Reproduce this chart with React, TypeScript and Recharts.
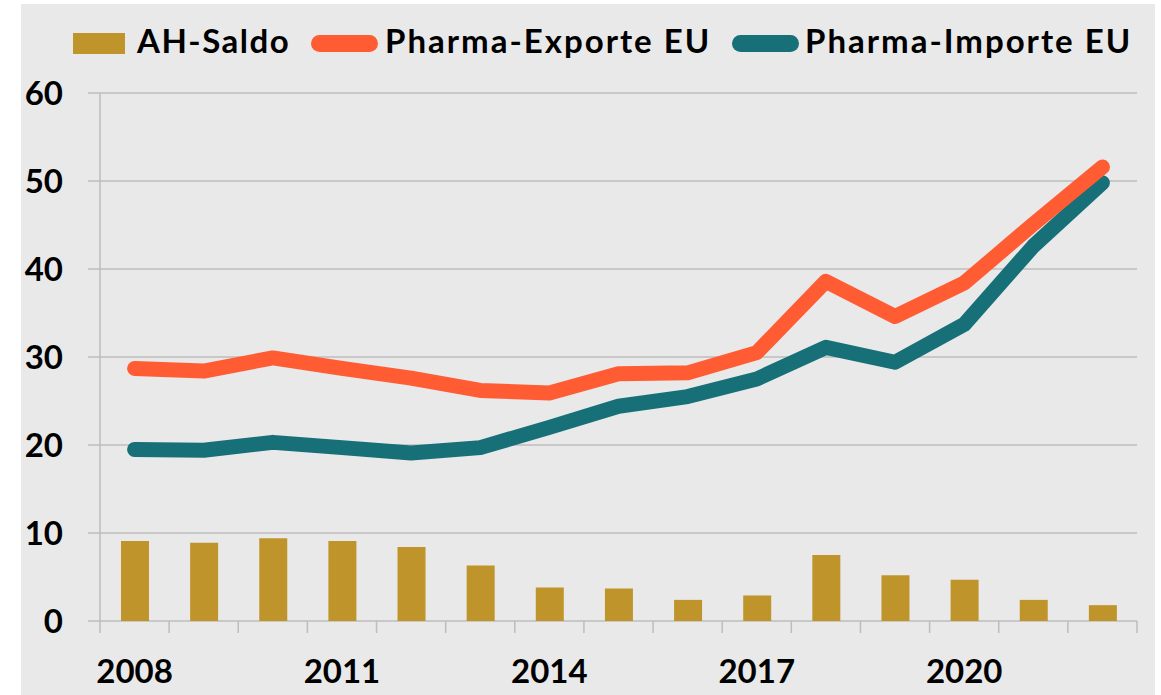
import { Bar, CartesianGrid, ComposedChart, Line, XAxis, YAxis } from 'recharts';

const years = ['2008', '2009', '2010', '2011', '2012', '2013', '2014', '2015', '2016', '2017', '2018', '2019', '2020', '2021', '2022'];
const ahSaldo = [9.1, 8.9, 9.4, 9.1, 8.4, 6.3, 3.8, 3.7, 2.4, 2.9, 7.5, 5.2, 4.7, 2.4, 1.8];
const pharmaExporte = [28.7, 28.4, 29.9, 28.7, 27.6, 26.2, 25.9, 28.1, 28.2, 30.5, 38.6, 34.6, 38.4, 45.1, 51.6];
const pharmaImporte = [19.5, 19.4, 20.3, 19.7, 19.1, 19.7, 22.0, 24.4, 25.5, 27.5, 31.1, 29.4, 33.7, 42.6, 49.8];
const yTicks = [0, 10, 20, 30, 40, 50, 60];
const labelEvery = 3;

const data = years.map((year, i) => ({
  year,
  saldo: ahSaldo[i],
  exporte: pharmaExporte[i],
  importe: pharmaImporte[i],
}));

const GOLD = '#BF952B';
const ORANGE = '#FF5C33';
const TEAL = '#177078';
const GRID = '#BDBDBD';
const FONT = 'Lato, sans-serif';

const labelStyle = { fontSize: 33, fontWeight: 700, fill: '#000', fontFamily: FONT };

const legendText: React.CSSProperties = {
  position: 'absolute',
  top: 16,
  lineHeight: '40px',
  fontFamily: FONT,
  fontWeight: 700,
  fontSize: 33,
  letterSpacing: 2,
  color: '#000',
  whiteSpace: 'nowrap',
};

// tick marks sit on the category borders, labels only every third year
function YearTick(props: any) {
  const { x, y, payload, index } = props;
  const half = payload.offset ?? 0;
  const isLast = index === years.length - 1;
  return (
    <g>
      <line x1={x - half} x2={x - half} y1={y} y2={y + 12} stroke={GRID} strokeWidth={1.5} />
      {isLast && <line x1={x + half} x2={x + half} y1={y} y2={y + 12} stroke={GRID} strokeWidth={1.5} />}
      {index % labelEvery === 0 && (
        <text x={x} y={y + 62} textAnchor="middle" {...labelStyle}>
          {payload.value}
        </text>
      )}
    </g>
  );
}

export default function App() {
  return (
    <div style={{ position: 'absolute', left: 21, top: 4, width: 1134, height: 691, background: '#E9E9E9' }}>
      <div style={{ position: 'absolute', left: 52, top: 29, width: 52, height: 21, background: GOLD }} />
      <span style={{ ...legendText, left: 116, letterSpacing: 1.5 }}>AH-Saldo</span>
      <div style={{ position: 'absolute', left: 290, top: 31, width: 67, height: 17, borderRadius: 9, background: ORANGE }} />
      <span style={{ ...legendText, left: 364 }}>Pharma-Exporte EU</span>
      <div style={{ position: 'absolute', left: 711, top: 31, width: 67, height: 17, borderRadius: 9, background: TEAL }} />
      <span style={{ ...legendText, left: 784 }}>Pharma-Importe EU</span>

      <ComposedChart width={1134} height={691} data={data} margin={{ top: 89, right: 18, bottom: 0, left: 0 }}>
        <CartesianGrid vertical={false} stroke={GRID} strokeWidth={1.5} />
        <XAxis
          dataKey="year"
          interval={0}
          axisLine={false}
          tickLine={false}
          tickSize={0}
          tickMargin={0}
          tick={<YearTick />}
          height={74}
        />
        <YAxis
          domain={[0, 60]}
          ticks={yTicks}
          width={79}
          axisLine={{ stroke: GRID, strokeWidth: 1.5 }}
          tickLine={{ stroke: GRID, strokeWidth: 1.5 }}
          tickSize={12}
          tickMargin={25}
          tick={labelStyle}
        />
        <Bar dataKey="saldo" fill={GOLD} barSize={28} isAnimationActive={false} />
        <Line
          type="linear"
          dataKey="importe"
          stroke={TEAL}
          strokeWidth={15}
          strokeLinecap="round"
          strokeLinejoin="round"
          dot={false}
          isAnimationActive={false}
        />
        <Line
          type="linear"
          dataKey="exporte"
          stroke={ORANGE}
          strokeWidth={15}
          strokeLinecap="round"
          strokeLinejoin="round"
          dot={false}
          isAnimationActive={false}
        />
      </ComposedChart>
    </div>
  );
}
